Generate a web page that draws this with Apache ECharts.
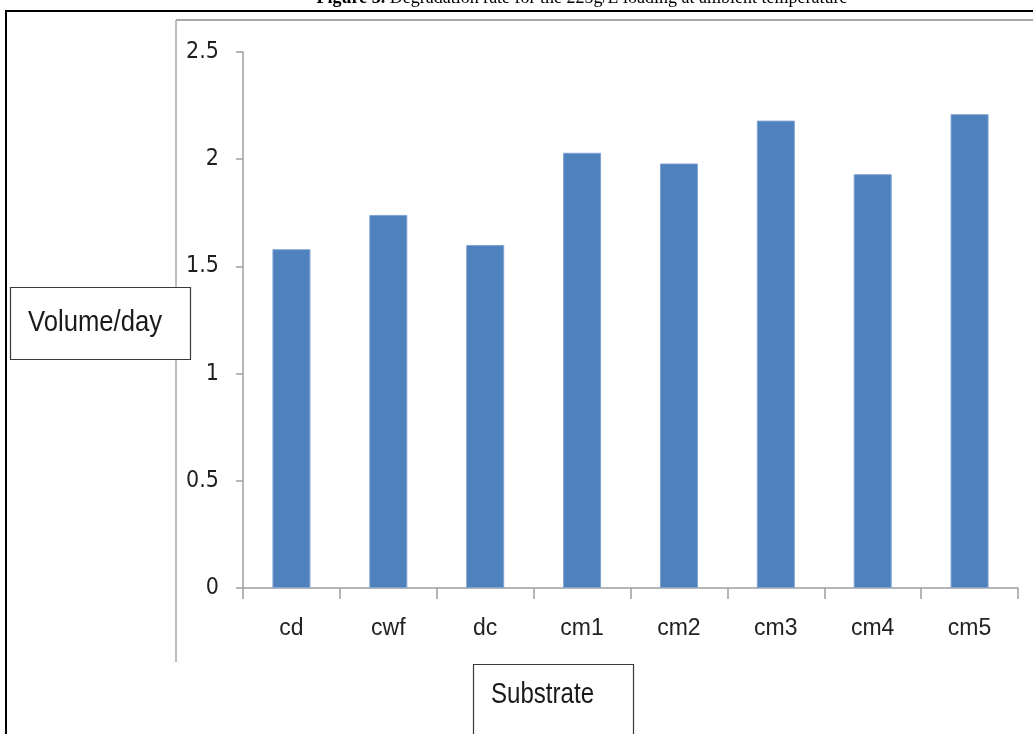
<!DOCTYPE html>
<html>
<head>
<meta charset="utf-8">
<script src="https://cdn.jsdelivr.net/npm/echarts@6/dist/echarts.min.js"></script>
<style>
html,body{margin:0;padding:0;background:#fff;}
#c{width:1033px;height:734px;}
</style>
</head>
<body>
<div id="c"></div>
<script>
const categories = ['cd', 'cwf', 'dc', 'cm1', 'cm2', 'cm3', 'cm4', 'cm5'];
const values = [1.58, 1.74, 1.60, 2.03, 1.98, 2.18, 1.93, 2.21];
const yTicks = { min: 0, max: 2.5, interval: 0.5 };
const titleBold = 'Figure 3.';
const titleRest = ' Degradation rate for the 225g/L loading at ambient temperature';
const yName = 'Volume/day';
const xName = 'Substrate';

const sans = "'Liberation Sans', Arial, sans-serif";
const cond = "'DejaVu Sans Condensed', 'Liberation Sans', sans-serif";
const serif = "'Liberation Serif', 'Times New Roman', serif";
const chart = echarts.init(document.getElementById('c'), null, { renderer: 'canvas' });
chart.setOption({
  backgroundColor: '#ffffff',
  animation: false,
  grid: { left: 243, right: 15, top: 52, bottom: 146, containLabel: false },
  xAxis: {
    type: 'category',
    data: categories,
    boundaryGap: true,
    axisLine: { show: true, lineStyle: { color: '#9e9e9e', width: 1.5 } },
    axisTick: { show: true, alignWithLabel: false, length: 11, lineStyle: { color: '#9e9e9e', width: 1.5 } },
    axisLabel: { color: '#222', fontSize: 23, fontFamily: sans, margin: 29 },
    splitLine: { show: false }
  },
  yAxis: {
    type: 'value',
    min: yTicks.min, max: yTicks.max, interval: yTicks.interval,
    axisLine: { show: true, lineStyle: { color: '#9e9e9e', width: 1.5 } },
    axisTick: { show: true, length: 7, lineStyle: { color: '#9e9e9e', width: 1.5 } },
    axisLabel: { color: '#1e1e1e', fontSize: 23, fontFamily: cond, margin: 24 },
    splitLine: { show: false }
  },
  series: [{
    type: 'bar',
    data: values,
    barWidth: 38,
    itemStyle: { color: '#4f81bd', borderColor: '#7fa3d3', borderWidth: 1 }
  }],
  graphic: [
    { type: 'rect', z: 0, shape: { x: 6, y: 11, width: 1100, height: 800 }, style: { fill: 'none', stroke: '#000', lineWidth: 2 } },
    { type: 'line', z: 1, shape: { x1: 176, y1: 20, x2: 1040, y2: 20 }, style: { stroke: '#a8a8a8', lineWidth: 2 } },
    { type: 'line', z: 1, shape: { x1: 176, y1: 20, x2: 176, y2: 662 }, style: { stroke: '#a8a8a8', lineWidth: 1.5 } },
    { type: 'rect', z: 10, shape: { x: 10.5, y: 287.5, width: 180, height: 72 }, style: { fill: '#fff', stroke: '#3a3a3a', lineWidth: 1.2 } },
    { type: 'text', z: 11, x: 28, y: 323, scaleX: 0.855, style: { text: yName, font: "30px " + sans, fill: '#1a1a1a', verticalAlign: 'middle', align: 'left' } },
    { type: 'rect', z: 10, shape: { x: 473.5, y: 664.5, width: 160, height: 120 }, style: { fill: '#fff', stroke: '#3a3a3a', lineWidth: 1.2 } },
    { type: 'text', z: 11, x: 491, y: 695, scaleX: 0.83, style: { text: xName, font: "29px " + sans, fill: '#1a1a1a', verticalAlign: 'middle', align: 'left' } },
    { type: 'text', z: 11, x: 582, y: 7, style: {
        text: '{b|' + titleBold + '}' + titleRest,
        fontSize: 18, fontFamily: serif,
        fill: '#000', align: 'center', verticalAlign: 'bottom',
        rich: { b: { fontWeight: 'bold', fontSize: 18, fontFamily: serif } }
    } }
  ]
});
</script>
</body>
</html>
